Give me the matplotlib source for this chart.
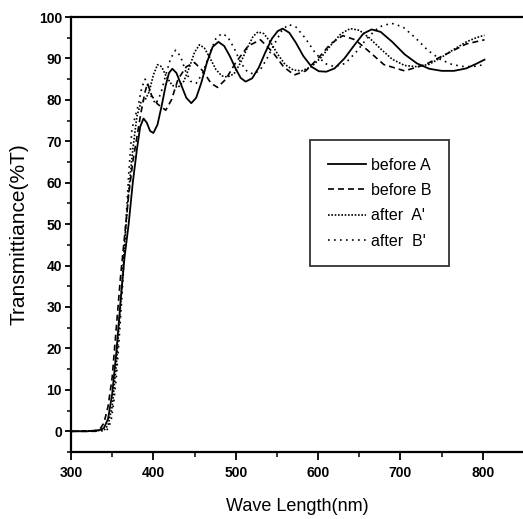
import matplotlib
matplotlib.use("Agg")
import matplotlib.pyplot as plt
from matplotlib.ticker import MultipleLocator

# before A (solid)
wl_a = [300, 320, 335, 340, 345, 350, 355, 360, 365, 370, 375, 380, 384, 388, 392, 396,
        400, 405, 410, 415, 419, 423, 428, 434, 440, 446, 452, 458, 465, 472, 479, 486,
        493, 500, 506, 512, 520, 528, 536, 544, 551, 557, 565, 573, 582, 592, 601, 610,
        620, 632, 644, 655, 665, 676, 690, 705, 720, 735, 750, 765, 780, 792, 802]
t_a = [0, 0, 0.3, 0.8, 3, 9, 19, 31, 42, 50, 60, 68, 73.5, 75.5, 74.5, 72.5,
       72, 74, 78.5, 83.5, 86.5, 87.5, 86.5, 83.5, 80.5, 79.2, 80.5, 84, 89, 92.8, 94, 93,
       90.5, 87.5, 85.3, 84.4, 85.2, 87.8, 91.5, 94.8, 96.6, 97.2, 96.2, 93.8, 90.6, 88, 86.9, 86.8,
       87.6, 90, 93.2, 96, 97, 96.4, 94, 91, 88.8, 87.5, 87, 87, 87.6, 88.7, 89.7]

# before B (dashed)
wl_b = [300, 330, 335, 340, 345, 350, 355, 360, 365, 370, 375, 380, 385, 390, 393, 398,
        405, 415, 422, 430, 440, 450, 460, 470, 478, 488, 500, 515, 530, 545, 558, 571,
        585, 600, 615, 630, 645, 660, 680, 705, 730, 755, 780, 802]
t_b = [0, 0, 0.5, 2, 6, 13, 25, 37, 47, 57, 65, 71, 77, 82, 84, 81,
       79, 77.5, 80, 85, 88, 89, 87, 84, 83, 85, 89, 93, 94.5, 91.5, 88, 86,
       87, 90, 93.5, 95.5, 94.5, 92, 88.5, 87, 88.5, 91, 93.5, 94.5]

# after A' (fine dotted)
wl_c = [300, 340, 345, 350, 355, 360, 365, 370, 375, 380, 385, 390, 395, 400, 405, 410,
        416, 423, 430, 437, 444, 450, 456, 462, 469, 476, 483, 490, 498, 506, 514, 521,
        527, 534, 542, 551, 560, 570, 580, 592, 604, 616, 628, 639, 650, 662, 676, 690,
        705, 720, 735, 750, 765, 780, 792, 802]
t_c = [0, 0.2, 1.5, 6, 16, 30, 45, 58, 68, 76, 79.5, 80, 82, 86, 88.5, 88,
       85.5, 83.5, 83, 84.5, 88, 91.5, 93.3, 92.5, 90, 87.3, 85.8, 85.5, 86.3, 89, 92.5, 95.3,
       96.4, 96, 94, 91, 88.5, 87.2, 87, 88, 90.3, 93.3, 96, 97.2, 96.8, 95, 92.3, 89.8,
       88.3, 88, 88.6, 90.3, 92.2, 94, 95, 95.6]

# after B' (sparse dotted)
wl_d = [300, 343, 346, 349, 352, 355, 358, 362, 366, 370, 374, 378, 382, 386, 390, 394,
        398, 403, 409, 415, 421, 427, 433, 439, 445, 452, 460, 468, 476, 483, 490, 498,
        506, 514, 522, 530, 538, 547, 556, 564, 573, 584, 596, 608, 620, 633, 646, 660,
        674, 689, 703, 718, 733, 748, 763, 778, 790, 802]
t_d = [0, 0.2, 1, 3, 7, 13, 21, 33, 48, 62, 73, 76, 79, 83, 85, 83,
       80.5, 79, 81.5, 86, 90, 92, 90.5, 87, 84.5, 84, 86.5, 91, 94.8, 96, 95.3, 92.5,
       89, 86.8, 86.2, 87.3, 90, 93.5, 96.7, 98.2, 97.6, 95, 91.5, 88.8, 88, 88.8, 91.5, 95,
       97.6, 98.5, 97.6, 95, 92, 89.8, 88.5, 88, 88.1, 88.5]

labels = ["before A", "before B", "after  A'", "after  B'"]

plt.rcParams["font.family"] = ["Liberation Sans", "DejaVu Sans"]

fig = plt.figure(figsize=(5.23, 5.19), dpi=100)
ax = fig.add_axes([71 / 523, 67 / 519, 453 / 523, 435 / 519])

ax.plot(wl_a, t_a, color="black", lw=1.3, linestyle="-", label=labels[0])
ax.plot(wl_b, t_b, color="black", lw=1.2, linestyle=(0, (3.6, 2.4)), label=labels[1])
ax.plot(wl_c, t_c, color="black", lw=1.2, linestyle=(0, (1, 1)), label=labels[2])
ax.plot(wl_d, t_d, color="black", lw=1.2, linestyle=(0, (1, 2.6)), label=labels[3])

ax.set_xlim(300, 850)
ax.set_ylim(-5, 100)
ax.xaxis.set_major_locator(MultipleLocator(100))
ax.xaxis.set_minor_locator(MultipleLocator(50))
ax.yaxis.set_major_locator(MultipleLocator(10))
ax.yaxis.set_minor_locator(MultipleLocator(5))
ax.set_yticks(range(0, 101, 10))

for side in ["top", "bottom", "left"]:
    ax.spines[side].set_linewidth(1.6)
ax.spines["right"].set_visible(False)

ax.tick_params(axis="x", which="major", direction="out", length=6, width=1.3, pad=4, labelsize=10)
ax.tick_params(axis="x", which="minor", direction="out", length=3.5, width=1.1)
ax.tick_params(axis="y", which="major", direction="out", length=4.5, width=1.3, pad=2, labelsize=10)
ax.tick_params(axis="y", which="minor", direction="out", length=3, width=1.1)
ax.tick_params(top=False, right=False, which="both")
for lab in ax.get_xticklabels() + ax.get_yticklabels():
    lab.set_fontweight("bold")

ax.set_xlabel("Wave Length(nm)", fontsize=13, labelpad=13)
ax.set_ylabel("Transmittiance(%T)", fontsize=15, labelpad=7)

leg = ax.legend(loc="upper left", bbox_to_anchor=((310 - 71) / 453, (452 - 140) / 435),
                fontsize=11.5, frameon=True, fancybox=False, edgecolor="black",
                handlelength=2.4, handletextpad=0.3, labelspacing=0.65,
                borderpad=1.1, borderaxespad=0)
leg.get_frame().set_linewidth(1.3)

fig.savefig("out.png", dpi=100)
